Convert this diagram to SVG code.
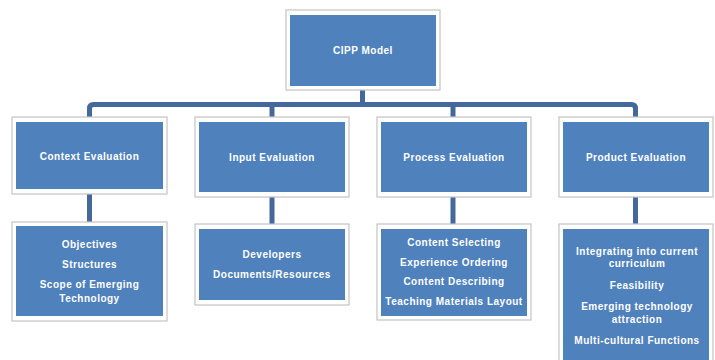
<svg xmlns="http://www.w3.org/2000/svg" width="715" height="360" viewBox="0 0 715 360">
  <style>
    .frame { fill: #ffffff; stroke: #c4c4c4; stroke-width: 1.2; }
    .box { fill: #4f81bd; }
    .wire { fill: none; stroke: #44689c; stroke-width: 5; stroke-linejoin: round; }
    text { font-family: "Liberation Sans", Arial, sans-serif; font-size: 10px; font-weight: bold; fill: #ffffff; text-anchor: middle; letter-spacing: 0.5px; }
  </style>

  <!-- connectors -->
  <g id="connectors">
    <path class="wire" d="M362.5 90 V104.5"/>
    <path class="wire" d="M89.5 117 V108.5 Q89.5 104.5 93.5 104.5 H631.5 Q635.5 104.5 635.5 108.5 V117"/>
    <path class="wire" d="M272 104.5 V117"/>
    <path class="wire" d="M453 104.5 V117"/>
    <path class="wire" d="M89.5 194 V222"/>
    <path class="wire" d="M272 197 V224"/>
    <path class="wire" d="M453 197 V224"/>
    <path class="wire" d="M635.5 197 V224"/>
  </g>

  <!-- root -->
  <g id="cipp">
    <rect class="frame" x="286" y="10" width="154" height="80"/>
    <rect class="box" x="290" y="15" width="146" height="71"/>
    <text x="363" y="54">CIPP Model</text>
  </g>

  <!-- stage boxes -->
  <g id="context">
    <rect class="frame" x="12" y="117" width="155" height="77"/>
    <rect class="box" x="16" y="122" width="147" height="67"/>
    <text x="89.5" y="160">Context Evaluation</text>
  </g>
  <g id="input">
    <rect class="frame" x="195" y="117" width="154" height="80"/>
    <rect class="box" x="199" y="122" width="146" height="70"/>
    <text x="272" y="161">Input Evaluation</text>
  </g>
  <g id="process">
    <rect class="frame" x="377" y="117" width="154" height="80"/>
    <rect class="box" x="381" y="122" width="146" height="70"/>
    <text x="454" y="161">Process Evaluation</text>
  </g>
  <g id="product">
    <rect class="frame" x="559" y="117" width="154" height="80"/>
    <rect class="box" x="563" y="122" width="146" height="70"/>
    <text x="636" y="161">Product Evaluation</text>
  </g>

  <!-- detail boxes -->
  <g id="context-detail">
    <rect class="frame" x="12" y="222" width="155" height="99"/>
    <rect class="box" x="16" y="226" width="147" height="90"/>
    <text x="89.5" y="248">Objectives</text>
    <text x="89.5" y="268">Structures</text>
    <text x="89.5" y="288">Scope of Emerging</text>
    <text x="89.5" y="302">Technology</text>
  </g>
  <g id="input-detail">
    <rect class="frame" x="195" y="224" width="154" height="81"/>
    <rect class="box" x="199" y="229" width="146" height="71"/>
    <text x="272" y="258">Developers</text>
    <text x="272" y="278">Documents/Resources</text>
  </g>
  <g id="process-detail">
    <rect class="frame" x="377" y="224" width="154" height="96"/>
    <rect class="box" x="381" y="229" width="146" height="87"/>
    <text x="454" y="246">Content Selecting</text>
    <text x="454" y="266">Experience Ordering</text>
    <text x="454" y="285">Content Describing</text>
    <text x="454" y="305">Teaching Materials Layout</text>
  </g>
  <g id="product-detail">
    <rect class="frame" x="559" y="224" width="154" height="150"/>
    <rect class="box" x="563" y="229" width="146" height="140"/>
    <text x="637" y="255">Integrating into current</text>
    <text x="637" y="267">curriculum</text>
    <text x="637" y="289">Feasibility</text>
    <text x="637" y="310">Emerging technology</text>
    <text x="637" y="323">attraction</text>
    <text x="637" y="344">Multi-cultural Functions</text>
  </g>
</svg>
